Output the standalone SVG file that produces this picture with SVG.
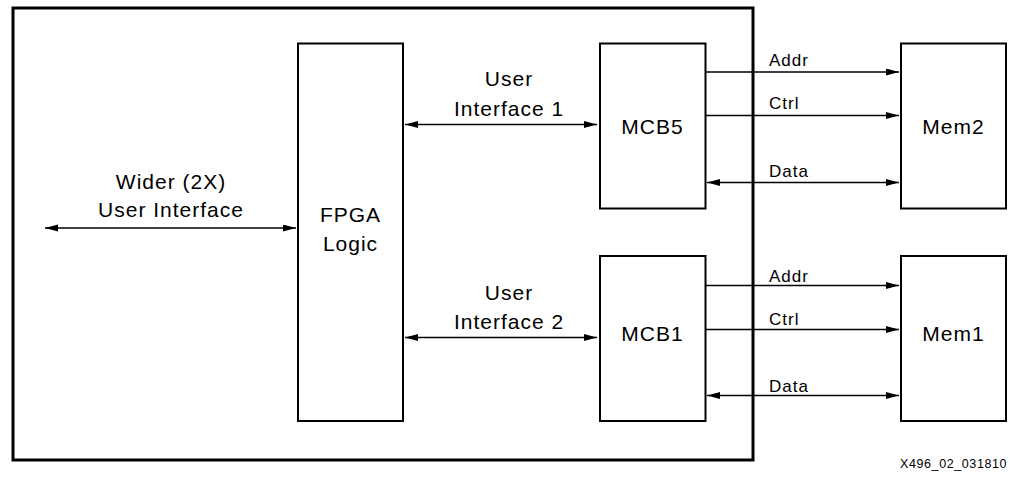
<svg xmlns="http://www.w3.org/2000/svg" width="1010" height="482" viewBox="0 0 1010 482">
<style>
.box{fill:#fff;stroke:#000;stroke-width:2}
.outer{fill:none;stroke:#000;stroke-width:3}
.wire{fill:none;stroke:#000;stroke-width:1.3}
.big{font-family:"Liberation Sans",Arial,sans-serif;font-size:21px;letter-spacing:1px;fill:#000;text-anchor:middle}
.small{font-family:"Liberation Sans",Arial,sans-serif;font-size:17px;letter-spacing:1px;fill:#000}
.foot{font-family:"Liberation Sans",Arial,sans-serif;font-size:12.5px;letter-spacing:0.6px;fill:#000}
</style>
<defs>
<marker id="ah" markerUnits="userSpaceOnUse" markerWidth="14" markerHeight="8" refX="13" refY="3.5" orient="auto-start-reverse">
<path d="M0,0 L13,3.5 L0,7 z" fill="#000"/>
</marker>
</defs>
<rect width="1010" height="482" fill="#fff"/>
<rect id="fpga-device" class="outer" x="13" y="8" width="740" height="452"/>
<g id="connectors">
<line class="wire" x1="45" y1="228" x2="296" y2="228" marker-start="url(#ah)" marker-end="url(#ah)"/>
<line class="wire" x1="405" y1="124.5" x2="597" y2="124.5" marker-start="url(#ah)" marker-end="url(#ah)"/>
<line class="wire" x1="405" y1="337.5" x2="597" y2="337.5" marker-start="url(#ah)" marker-end="url(#ah)"/>
<line class="wire" x1="706" y1="72" x2="899" y2="72" marker-end="url(#ah)"/>
<line class="wire" x1="706" y1="115.5" x2="899" y2="115.5" marker-end="url(#ah)"/>
<line class="wire" x1="707" y1="182.5" x2="899" y2="182.5" marker-start="url(#ah)" marker-end="url(#ah)"/>
<line class="wire" x1="706" y1="285.5" x2="899" y2="285.5" marker-end="url(#ah)"/>
<line class="wire" x1="706" y1="329.5" x2="899" y2="329.5" marker-end="url(#ah)"/>
<line class="wire" x1="707" y1="395.5" x2="899" y2="395.5" marker-start="url(#ah)" marker-end="url(#ah)"/>
<text class="big" x="171" y="189">Wider (2X)</text>
<text class="big" x="171" y="217">User Interface</text>
<text class="big" x="509" y="86">User</text>
<text class="big" x="509" y="115.5">Interface 1</text>
<text class="big" x="509" y="300">User</text>
<text class="big" x="509" y="329">Interface 2</text>
<text class="small" x="769" y="66">Addr</text>
<text class="small" x="769" y="109">Ctrl</text>
<text class="small" x="769" y="176.5">Data</text>
<text class="small" x="769" y="281.5">Addr</text>
<text class="small" x="769" y="325">Ctrl</text>
<text class="small" x="769" y="391.5">Data</text>
</g>
<g id="fpga-logic">
<rect class="box" x="298" y="43.5" width="105" height="377.5"/>
<text class="big" x="350.5" y="221.5">FPGA</text>
<text class="big" x="350.5" y="251">Logic</text>
</g>
<g id="mcb5">
<rect class="box" x="600" y="43.5" width="105.5" height="165"/>
<text class="big" x="652.5" y="133.5">MCB5</text>
</g>
<g id="mcb1">
<rect class="box" x="600" y="256" width="105.5" height="165"/>
<text class="big" x="652.5" y="341">MCB1</text>
</g>
<g id="mem2">
<rect class="box" x="901" y="43.5" width="105" height="165"/>
<text class="big" x="953.5" y="134">Mem2</text>
</g>
<g id="mem1">
<rect class="box" x="901" y="256" width="105" height="165"/>
<text class="big" x="953.5" y="341">Mem1</text>
</g>
<text class="foot" x="900" y="468">X496_02_031810</text>
</svg>
